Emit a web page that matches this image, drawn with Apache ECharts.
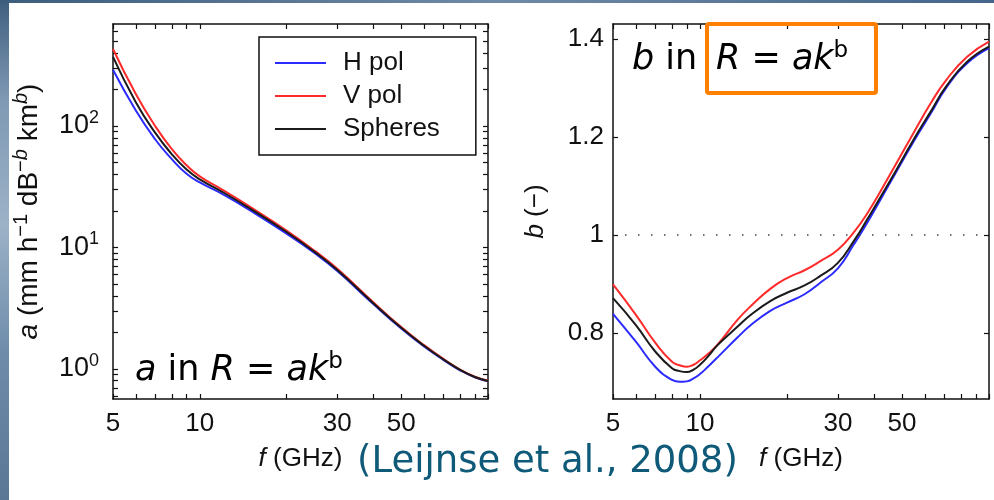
<!DOCTYPE html>
<html>
<head>
<meta charset="utf-8">
<script src="https://cdn.jsdelivr.net/npm/echarts@6/dist/echarts.min.js"></script>
<style>
    html, body { margin: 0; padding: 0; background: #fff; }
    #chart { width: 994px; height: 500px; }
</style>
</head>
<body>
<div id="chart"></div>
<script>
// left panel: coefficient a vs frequency (log-log)
const freqA = [5, 6, 7, 8, 9, 10, 12, 15, 20, 25, 30, 40, 50, 60, 70, 80, 90, 100];
const aHpol = [290, 134, 77.8, 53.3, 40.4, 34.3, 27.5, 20.1, 13.0, 9.0, 6.4, 3.42, 2.15, 1.53, 1.19, 0.976, 0.855, 0.794];
const aVpol = [430, 183, 100, 64.5, 47.5, 38.5, 29.8, 21.5, 13.8, 9.42, 6.67, 3.54, 2.21, 1.57, 1.21, 0.99, 0.863, 0.80];
const aSpheres = [370, 157, 88.1, 58.5, 43.8, 36.3, 28.6, 20.8, 13.4, 9.2, 6.53, 3.48, 2.18, 1.553, 1.2, 0.983, 0.859, 0.797];

// right panel: exponent b vs frequency
const freqB = [5, 6, 7, 8, 8.5, 9, 9.5, 10, 10.7, 11.5, 13.5, 15, 17.5, 20, 23, 26, 30, 34, 38, 45, 55, 63, 71, 84, 100];
const bHpol = [0.839, 0.782, 0.731, 0.704, 0.700, 0.701, 0.707, 0.716, 0.732, 0.750, 0.791, 0.816, 0.845, 0.862, 0.879, 0.902, 0.932, 0.980, 1.026, 1.102, 1.192, 1.249, 1.300, 1.351, 1.382];
const bVpol = [0.899, 0.837, 0.780, 0.741, 0.734, 0.731, 0.735, 0.744, 0.758, 0.776, 0.827, 0.855, 0.890, 0.912, 0.928, 0.946, 0.970, 1.005, 1.045, 1.119, 1.210, 1.270, 1.316, 1.364, 1.395];
const bSpheres = [0.871, 0.816, 0.762, 0.728, 0.722, 0.720, 0.725, 0.735, 0.753, 0.775, 0.813, 0.837, 0.865, 0.882, 0.897, 0.916, 0.943, 0.987, 1.033, 1.106, 1.196, 1.253, 1.303, 1.354, 1.385];

const seriesNames = ['H pol', 'V pol', 'Spheres'];
const seriesColors = ['#2b2bff', '#ff2b2b', '#1a1a1a'];

// ticks and labels
const freqTicks = [5, 6, 7, 8, 9, 10, 20, 30, 40, 50, 60, 70, 80, 90, 100];
const freqLabels = [5, 10, 30, 50];
const aTicks = [0.6, 0.7, 0.8, 0.9, 1, 2, 3, 4, 5, 6, 7, 8, 9, 10, 20, 30, 40, 50, 60, 70, 80, 90, 100, 200, 300, 400, 500, 600];
const aLabels = [1, 10, 100];
const bTicks = [0.8, 1, 1.2, 1.4];

const font = 'Liberation Sans';
const ink = '#111';

const chart = echarts.init(document.getElementById('chart'));

function makeRich(size, supSize, lift) {
    return {
        i: { fontStyle: 'italic', fontSize: size, fontFamily: font, color: ink },
        s: { fontSize: supSize, fontFamily: font, color: ink, padding: [0, 0, lift, 0] },
        si: { fontSize: supSize, fontStyle: 'italic', fontFamily: font, color: ink, padding: [0, 0, lift, 0] }
    };
}

function freqAxis(gridIndex, top) {
    return {
        type: 'log',
        logBase: 10,
        gridIndex: gridIndex,
        position: top ? 'top' : 'bottom',
        min: 4.9999,
        max: 100.001,
        axisLine: { show: true, onZero: false, lineStyle: { color: ink, width: 1.5 } },
        axisTick: { show: true, inside: true, length: 5, customValues: freqTicks, lineStyle: { color: ink, width: 1.2 } },
        axisLabel: top ? { show: false } : {
            customValues: freqLabels, margin: 12, fontSize: 26, fontFamily: font, color: ink
        },
        splitLine: { show: false },
        name: top ? '' : '{i|f} (GHz)',
        nameLocation: 'middle',
        nameGap: 47,
        nameMoveOverlap: false,
        nameTextStyle: { fontSize: 26, fontFamily: font, color: ink, rich: makeRich(26, 19, 15) }
    };
}

function aAxis(right) {
    return {
        type: 'log',
        logBase: 10,
        gridIndex: 0,
        position: right ? 'right' : 'left',
        min: 0.566,
        max: 691,
        axisLine: { show: true, onZero: false, lineStyle: { color: ink, width: 1.5 } },
        axisTick: { show: true, inside: true, length: 5, customValues: aTicks, lineStyle: { color: ink, width: 1.2 } },
        axisLabel: right ? { show: false } : {
            customValues: aLabels,
            margin: 14,
            formatter: function (v) {
                return '{b|10}{s|' + Math.round(Math.log10(v)) + '}';
            },
            rich: {
                b: { fontSize: 27, fontFamily: font, color: ink },
                s: { fontSize: 18, fontFamily: font, color: ink, padding: [0, 0, 16, 0] }
            }
        },
        splitLine: { show: false },
        name: right ? '' : '{i|a} (mm h{s|\u22121} dB{s|\u2212}{si|b} km{si|b})',
        nameLocation: 'middle',
        nameGap: 66,
        nameRotate: 90,
        nameMoveOverlap: false,
        nameTextStyle: { fontSize: 28, fontFamily: font, color: ink, rich: makeRich(28, 20, 16) }
    };
}

function bAxis(right) {
    return {
        type: 'value',
        gridIndex: 1,
        position: right ? 'right' : 'left',
        min: 0.665,
        max: 1.431,
        axisLine: { show: true, onZero: false, lineStyle: { color: ink, width: 1.5 } },
        axisTick: { show: true, inside: true, length: 5, customValues: bTicks, lineStyle: { color: ink, width: 1.2 } },
        axisLabel: right ? { show: false } : {
            customValues: bTicks, margin: 9, fontSize: 26, fontFamily: font, color: ink
        },
        splitLine: { show: false },
        name: right ? '' : '{i|b} (\u2212)',
        nameLocation: 'middle',
        nameGap: 64,
        nameRotate: 90,
        nameMoveOverlap: false,
        nameTextStyle: { fontSize: 26, fontFamily: font, color: ink, rich: makeRich(26, 19, 15) }
    };
}

function lineSeries(name, color, xs, ys, xi, yi) {
    return {
        name: name,
        type: 'line',
        xAxisIndex: xi,
        yAxisIndex: yi,
        data: xs.map(function (f, i) { return [f, ys[i]]; }),
        smooth: 0.5,
        symbol: 'none',
        silent: true,
        lineStyle: { color: color, width: 2 },
        itemStyle: { color: color }
    };
}

const leftSets = [aHpol, aVpol, aSpheres];
const rightSets = [bHpol, bVpol, bSpheres];
const series = [];
seriesNames.forEach(function (n, k) {
    series.push(lineSeries(n, seriesColors[k], freqA, leftSets[k], 0, 0));
});
seriesNames.forEach(function (n, k) {
    series.push(lineSeries(n, seriesColors[k], freqB, rightSets[k], 2, 2));
});
// dotted reference line at b = 1
series[3].markLine = {
    silent: true,
    symbol: ['none', 'none'],
    label: { show: false },
    lineStyle: { color: '#444', width: 1.5, type: [1.5, 11.5], dashOffset: -12 },
    data: [{ yAxis: 1 }]
};

const stripLeft = new echarts.graphic.LinearGradient(0, 0, 0, 1, [
    { offset: 0, color: '#3f5f7f' },
    { offset: 0.2, color: '#7f99b4' },
    { offset: 0.45, color: '#9cb2c7' },
    { offset: 0.7, color: '#6f8dab' },
    { offset: 1, color: '#5a7896' }
]);
const stripTop = new echarts.graphic.LinearGradient(0, 0, 1, 0, [
    { offset: 0, color: '#3d5d7d' },
    { offset: 0.5, color: '#6f8aa6' },
    { offset: 1, color: '#45658a' }
]);

const noteRich = {
    i: { fontStyle: 'italic', fontSize: 35, fontFamily: 'DejaVu Sans', fill: '#000' },
    s: { fontSize: 23, fontFamily: 'DejaVu Sans', fill: '#000', padding: [0, 0, 17, 0] }
};

const options = {
    animation: false,
    backgroundColor: '#fff',
    grid: [
        { left: 113, top: 24, width: 375, height: 375, outerBoundsMode: 'none' },
        { left: 613, top: 24, width: 376, height: 375, outerBoundsMode: 'none' }
    ],
    xAxis: [freqAxis(0, false), freqAxis(0, true), freqAxis(1, false), freqAxis(1, true)],
    yAxis: [aAxis(false), aAxis(true), bAxis(false), bAxis(true)],
    legend: {
        data: seriesNames,
        orient: 'vertical',
        left: 259,
        top: 37,
        padding: [13, 36, 13, 16],
        itemGap: 7,
        itemWidth: 51,
        itemHeight: 2,
        icon: 'rect',
        borderColor: ink,
        borderWidth: 1.5,
        borderRadius: 0,
        backgroundColor: '#fff',
        selectedMode: false,
        textStyle: { fontSize: 26, fontFamily: font, color: ink, padding: [0, 0, 0, 12] }
    },
    series: series,
    graphic: [
        { type: 'rect', silent: true, shape: { x: 0, y: 0, width: 9, height: 500 }, style: { fill: stripLeft } },
        { type: 'rect', silent: true, shape: { x: 0, y: 0, width: 994, height: 3 }, style: { fill: stripTop } },
        {
            type: 'text', silent: true, z: 50,
            style: {
                x: 135, y: 371, verticalAlign: 'middle',
                text: '{i|a} in {i|R} = {i|ak}{s|b}',
                fontSize: 35, fontFamily: 'DejaVu Sans', fill: '#000', rich: noteRich
            }
        },
        {
            type: 'text', silent: true, z: 50,
            style: {
                x: 632, y: 60, verticalAlign: 'middle',
                text: '{i|b} in',
                fontSize: 35, fontFamily: 'DejaVu Sans', fill: '#000', rich: noteRich
            }
        },
        {
            type: 'text', silent: true, z: 50,
            style: {
                x: 716, y: 60, verticalAlign: 'middle',
                text: '{i|R} = {i|ak}{s|b}',
                fontSize: 35, fontFamily: 'DejaVu Sans', fill: '#000', rich: noteRich
            }
        },
        {
            type: 'rect', silent: true, z: 50,
            shape: { x: 707, y: 24, width: 169, height: 69, r: 2 },
            style: { fill: 'none', stroke: '#ff8000', lineWidth: 4 }
        },
        {
            type: 'text', silent: true, z: 50,
            style: {
                x: 357, y: 462, verticalAlign: 'middle',
                text: '(Leijnse et al., 2008)',
                fontSize: 37, fontFamily: 'DejaVu Sans', fill: '#0f5a78'
            }
        }
    ]
};

chart.setOption(options);
window.addEventListener('resize', function () {
    chart.resize();
});
</script>
</body>
</html>
